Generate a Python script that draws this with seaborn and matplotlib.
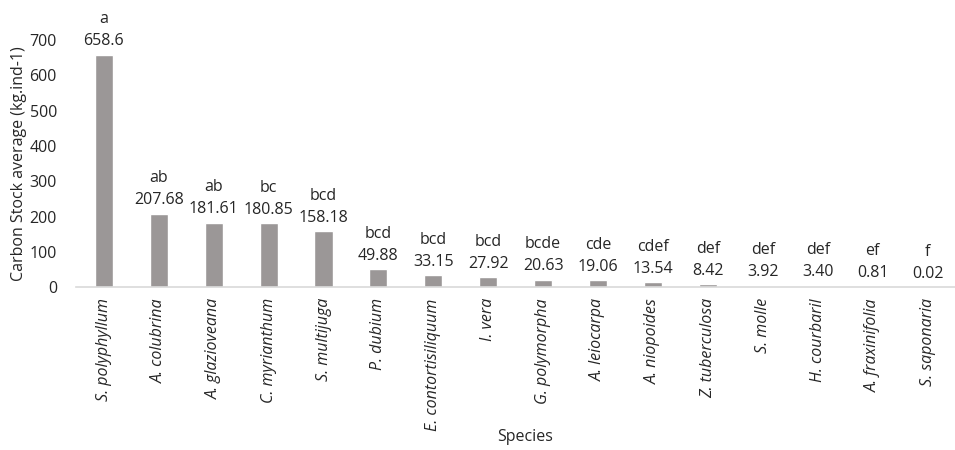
import numpy as np
import seaborn as sns
import matplotlib.pyplot as plt

species = ["S. polyphyllum", "A. colubrina", "A. glazioveana", "C. myrianthum",
           "S. multijuga", "P. dubium", "E. contortisiliquum", "I. vera",
           "G. polymorpha", "A. leiocarpa", "A. niopoides", "Z. tuberculosa",
           "S. molle", "H. courbaril", "A. fraxinifolia", "S. saponaria"]
carbon = [658.6, 207.68, 181.61, 180.85, 158.18, 49.88, 33.15, 27.92,
          20.63, 19.06, 13.54, 8.42, 3.92, 3.40, 0.81, 0.02]
value_labels = ["658.6", "207.68", "181.61", "180.85", "158.18", "49.88", "33.15",
                "27.92", "20.63", "19.06", "13.54", "8.42", "3.92", "3.40", "0.81", "0.02"]
letters = ["a", "ab", "ab", "bc", "bcd", "bcd", "bcd", "bcd",
           "bcde", "cde", "cdef", "def", "def", "def", "ef", "f"]
y_ticks = [0, 100, 200, 300, 400, 500, 600, 700]

sns.set_style("white")
plt.rcParams['font.family'] = ['Open Sans', 'DejaVu Sans']

fig = plt.figure(figsize=(9.55, 4.5), dpi=100)
ax = fig.add_axes([0.08, 0.362, 0.92, 0.549])

sns.barplot(x=species, y=carbon, color="#9b9797", width=0.33, saturation=1, ax=ax)

# letra + valor acima de cada barra
for i, (v, lab, let) in enumerate(zip(carbon, value_labels, letters)):
    ax.annotate(f"{let}\n{lab}", (i, v), xytext=(0, 4), textcoords="offset points",
                ha="center", va="bottom", fontsize=11.5, color="#262626",
                linespacing=1.5)

ax.set_ylim(0, 700)
ax.set_xlim(-0.5, len(species) - 0.5)
ax.set_yticks(y_ticks)
ax.tick_params(axis="y", labelsize=11.5, colors="#262626", length=0, pad=14)
ax.tick_params(axis="x", labelsize=11.5, colors="#262626", length=0, pad=8)
plt.setp(ax.get_xticklabels(), rotation=90, style="italic", ha="center", va="top")

for s in ["top", "right", "left"]:
    ax.spines[s].set_visible(False)
ax.spines["bottom"].set_color("#d9d9d9")
ax.spines["bottom"].set_linewidth(1.2)

ax.set_ylabel("Carbon Stock average (kg.ind-1)", fontsize=11.5, color="#262626")
ax.yaxis.set_label_coords(-0.056, 0.5)
ax.set_xlabel("Species", fontsize=11.5, color="#262626")
ax.xaxis.set_label_coords(0.511, -0.575)

fig.savefig("out.png", dpi=100)
